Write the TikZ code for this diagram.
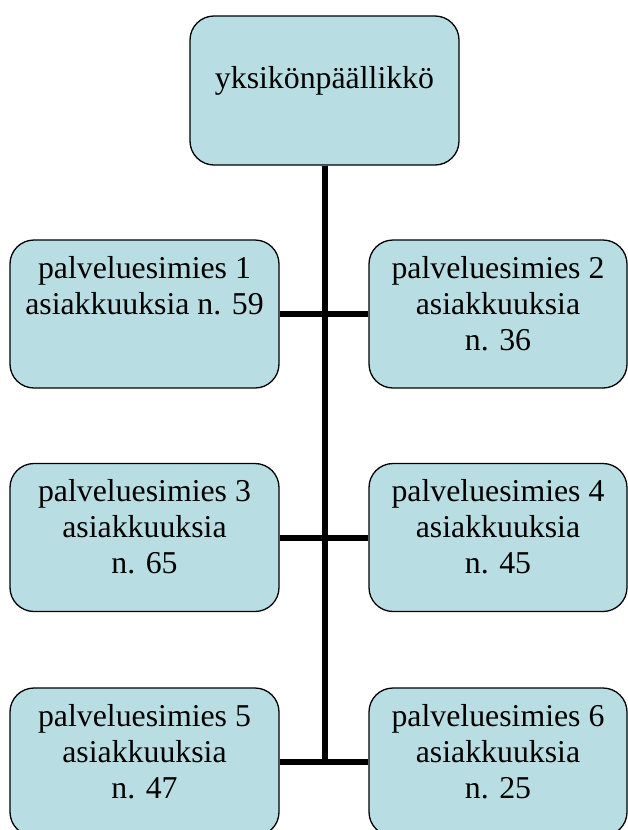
\documentclass[tikz,border=0pt]{standalone}
\usepackage{fontspec}
\setmainfont{Liberation Serif}
\usetikzlibrary{calc}
\definecolor{boxfill}{RGB}{184,222,227}
\tikzset{
  orgbox/.style={draw=black, line width=1.3pt, fill=boxfill, rounded corners=24pt,
    inner sep=0pt, minimum height=148pt},
  wide/.style={minimum width=269pt},
  narrow/.style={minimum width=258pt},
  lbl/.style={anchor=base, inner sep=0pt, font=\fontsize{31.8pt}{36pt}\selectfont},
  conn/.style={line width=6pt, draw=black}
}
\begin{document}
\begin{tikzpicture}[x=1pt, y=-1pt]
\useasboundingbox (0,0) rectangle (628,830);
% boxes
\node[orgbox, wide, minimum height=149pt] (top) at (324.5,90.5) {};
\node[orgbox, wide] (b1) at (144.5,314) {};
\node[orgbox, narrow] (b2) at (498,314) {};
\node[orgbox, wide] (b3) at (144.5,537.5) {};
\node[orgbox, narrow] (b4) at (498,537.5) {};
\node[orgbox, wide] (b5) at (144.5,762) {};
\node[orgbox, narrow] (b6) at (498,762) {};
% connectors
\coordinate (vend) at (324.5,765);
\draw[conn] (top.south) -- (vend);
\draw[conn] (b1.east) -- (b2.west);
\draw[conn] (b3.east) -- (b4.west);
\draw[conn] (b5.east) -- (b6.west);
% texts
\node[lbl] (ttop) at ($(top.north)+(0,73)$) {yksikönpäällikkö};
\node[lbl] (t1a) at ($(b1.north)+(0,39)$) {palveluesimies 1};
\node[lbl] (t1b) at ($(b1.north)+(0,75)$) {asiakkuuksia n. 59};
\node[lbl] (t2a) at ($(b2.north)+(0,39)$) {palveluesimies 2};
\node[lbl] (t2b) at ($(b2.north)+(0,75)$) {asiakkuuksia};
\node[lbl] (t2c) at ($(b2.north)+(0,111)$) {n. 36};
\node[lbl] (t3a) at ($(b3.north)+(0,39)$) {palveluesimies 3};
\node[lbl] (t3b) at ($(b3.north)+(0,75)$) {asiakkuuksia};
\node[lbl] (t3c) at ($(b3.north)+(0,111)$) {n. 65};
\node[lbl] (t4a) at ($(b4.north)+(0,39)$) {palveluesimies 4};
\node[lbl] (t4b) at ($(b4.north)+(0,75)$) {asiakkuuksia};
\node[lbl] (t4c) at ($(b4.north)+(0,111)$) {n. 45};
\node[lbl] (t5a) at ($(b5.north)+(0,39)$) {palveluesimies 5};
\node[lbl] (t5b) at ($(b5.north)+(0,75)$) {asiakkuuksia};
\node[lbl] (t5c) at ($(b5.north)+(0,111)$) {n. 47};
\node[lbl] (t6a) at ($(b6.north)+(0,39)$) {palveluesimies 6};
\node[lbl] (t6b) at ($(b6.north)+(0,75)$) {asiakkuuksia};
\node[lbl] (t6c) at ($(b6.north)+(0,111)$) {n. 25};
\end{tikzpicture}
\end{document}
